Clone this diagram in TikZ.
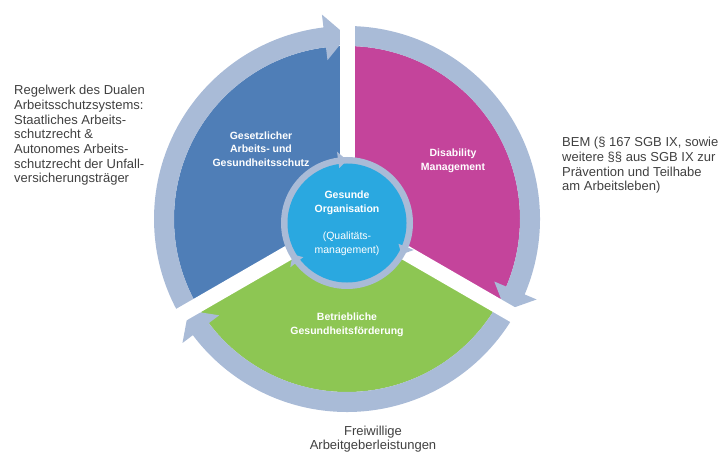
\documentclass[tikz,border=0pt]{standalone}
\usepackage{fontspec}
\setmainfont{Liberation Sans}
\definecolor{secblue}{HTML}{4F7EB7}
\definecolor{secmag}{HTML}{C4449B}
\definecolor{secgreen}{HTML}{8DC653}
\definecolor{orgcyan}{HTML}{2AA8E0}
\definecolor{ringcol}{HTML}{A9BBD7}
\definecolor{txtgray}{HTML}{404040}

\begin{document}
\begin{tikzpicture}[
    x=1pt, y=1pt,
    every node/.style={text=txtgray},
    sectorlabel/.style={text=white, align=center,
      font=\fontsize{10.5}{13.5}\selectfont\bfseries},
    sidelabel/.style={inner sep=0pt, font=\fontsize{13}{14.7}\selectfont},
  ]

  \useasboundingbox (0,0) rectangle (719,453);
  \coordinate (C) at (347,234);
  \coordinate (O) at (347,230);

  % === Sectors ===
  \fill[secmag] (C) -- ++(90:173) arc[start angle=90, end angle=-30, radius=173] -- cycle;
  \fill[secgreen] (C) -- ++(-30:173) arc[start angle=-30, end angle=-150, radius=173] -- cycle;
  \fill[secblue] (C) -- ++(210:173) arc[start angle=210, end angle=90, radius=173] -- cycle;

  \begin{scope}[shift={(C)}]
    % === Outer ring arrows (clockwise) ===
    \foreach \a/\b/\h in {210/90/97, 90/-30/-23, 330/210/217}
      \fill[ringcol] (\a:173) arc[start angle=\a, end angle=\h, radius=173]
        -- (\h:160) -- (\b:183) -- (\h:206) -- (\h:193)
        arc[start angle=\h, end angle=\a, radius=193] -- cycle;

    % White gaps between the sectors
    \foreach \g in {90,-30,210}
      \fill[white, rotate=\g] (0,-7.5) rectangle (212,7.5);
  \end{scope}

  % === Inner circle ===
  \begin{scope}[shift={(O)}]
    \fill[ringcol] (0,0) circle (66);
    \fill[orgcyan] (0,0) circle (59.5);
    \foreach \g/\h in {90/98, -30/-22, 210/218}
      \fill[ringcol] (\h:55.5) -- (\g:62.8) -- (\h:72) -- cycle;
  \end{scope}

  % === Sector labels ===
  \node[sectorlabel] (gesetz) at (261,304) {Gesetzlicher\\Arbeits- und\\Gesundheitsschutz};
  \node[sectorlabel] (disab) at (453,292) {Disability\\Management};
  \node[sectorlabel] (bgf) at (347,128) {Betriebliche\\Gesundheitsförderung};
  \node[sectorlabel] (org) at (347,250) {Gesunde\\Organisation};
  \node[sectorlabel, font=\fontsize{10.5}{13.5}\selectfont] (qm) at (347,209)
    {(Qualitäts-\\management)};

  % === Side labels ===
  \node[sidelabel, anchor=north west, align=left] (regelwerk) at (14,368)
    {Regelwerk des Dualen\\Arbeitsschutzsystems:\\Staatliches Arbeits-\\schutzrecht \&\\Autonomes Arbeits-\\schutzrecht der Unfall-\\versicherungsträger};
  \node[sidelabel, anchor=north west, align=left] (bem) at (562,316)
    {BEM (§ 167 SGB IX, sowie\\weitere §§ aus SGB IX zur\\Prävention und Teilhabe\\am Arbeitsleben)};
  \node[sidelabel, align=center] (freiwillig) at (373,14)
    {Freiwillige\\Arbeitgeberleistungen};

\end{tikzpicture}
\end{document}
